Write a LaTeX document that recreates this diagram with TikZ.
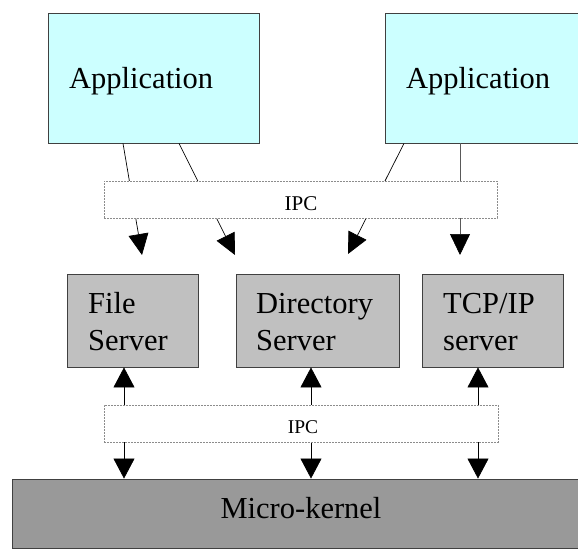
\documentclass[tikz,border=0pt]{standalone}
\usepackage{fontspec}
\setmainfont{Liberation Serif}
\newfontfamily\timesfont{Liberation Serif}
\usetikzlibrary{arrows.meta}
\definecolor{appcyan}{HTML}{CCFFFF}
\definecolor{srvgray}{HTML}{C0C0C0}
\definecolor{kernelgray}{HTML}{999999}
\begin{document}
\begin{tikzpicture}[x=1pt,y=-1pt,
  box/.style={draw=black!75, line width=0.9pt, inner sep=0pt},
  appbox/.style={box, fill=appcyan, minimum width=211pt, minimum height=130pt},
  srvbox/.style={box, fill=srvgray, minimum height=93pt},
  kernbox/.style={box, fill=kernelgray},
  ipcbox/.style={draw=black!45, fill=white, line width=0.8pt,
                 dash pattern=on 2pt off 1pt, inner sep=0pt,
                 minimum height=37pt},
  bigtxt/.style={inner sep=0pt, font=\timesfont\fontsize{30.5}{36}\selectfont},
  ipctxt/.style={inner sep=0pt},
  req/.style={line width=0.7pt, -{Triangle[width=20pt,length=21pt,color=black]}},
  call/.style={line width=0.7pt, {Triangle[width=21pt,length=20pt]}-{Triangle[width=21pt,length=20pt]}}
]
\clip (0,0) rectangle (578,549);
\fill[white] (0,0) rectangle (578,549);

% applications
\node[appbox] (app1) at (153.5,78) {};
\node[appbox] (app2) at (490.5,78) {};
\node[bigtxt, anchor=base west] (app1t) at (69,88) {Application};
\node[bigtxt, anchor=base west] (app2t) at (406,88) {Application};

% servers
\node[srvbox, minimum width=131pt] (fs)  at (132.5,320.5) {};
\node[srvbox, minimum width=163pt] (ds)  at (317.5,320.5) {};
\node[srvbox, minimum width=141pt] (tcp) at (492.5,320.5) {};
\node[bigtxt, anchor=base west] (fs1)  at (88,313)  {File};
\node[bigtxt, anchor=base west] (fs2)  at (88,350)  {Server};
\node[bigtxt, anchor=base west] (ds1)  at (256,313) {Directory};
\node[bigtxt, anchor=base west] (ds2)  at (256,350) {Server};
\node[bigtxt, anchor=base west] (tcp1) at (443,313) {TCP/IP};
\node[bigtxt, anchor=base west] (tcp2) at (443,350) {server};

% kernel
\node[kernbox, minimum width=588pt, minimum height=69pt] (mk) at (306,513.5) {};
\node[bigtxt, anchor=base] (mkt) at (301,518) {Micro-kernel};

% request arrows from the applications
\coordinate (s1) at (123,143);  \coordinate (e1) at (142,255);
\coordinate (s2) at (179,143);  \coordinate (e2) at (235,255);
\coordinate (s3) at (404,143);  \coordinate (e3) at (348,254);
\coordinate (s4) at (460,143);  \coordinate (e4) at (460,255);
\draw[req] (app1.south -| s1) -- (e1);
\draw[req] (app1.south -| s2) -- (e2);
\draw[req] (app2.south -| s3) -- (e3);
\draw[req, draw=black!65] (app2.south -| s4) -- (e4);

% server <-> kernel calls
\coordinate (k1) at (124,0);
\coordinate (k2) at (311,0);
\coordinate (k3) at (478,0);
\draw[call] (fs.south -| k1)  -- (mk.north -| k1);
\draw[call] (ds.south -| k2)  -- (mk.north -| k2);
\draw[call] (tcp.south -| k3) -- (mk.north -| k3);

% IPC layers over the connectors
\node[ipcbox, minimum width=393pt] (ipc1) at (300.5,199.5) {};
\node[ipctxt, anchor=base, font=\timesfont\fontsize{21}{24}\selectfont] (ipc1t) at (301,210) {IPC};
\node[ipcbox, minimum width=394pt] (ipc2) at (301,423.5) {};
\node[ipctxt, anchor=base, font=\timesfont\fontsize{19.5}{22}\selectfont] (ipc2t) at (303,433) {IPC};
\end{tikzpicture}
\end{document}
